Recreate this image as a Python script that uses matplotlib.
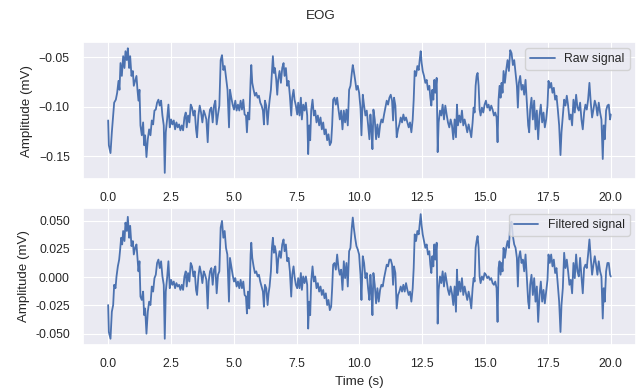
import matplotlib
matplotlib.use("Agg")
import matplotlib.pyplot as plt
import seaborn as sns

# EOG recording: raw channel (mV) sampled along time (s)
raw_t = [0.0, 0.028, 0.094, 0.147, 0.200, 0.240, 0.306, 0.359, 0.412, 0.452, 0.492, 0.545, 0.598, 0.650, 0.690,
         0.743, 0.783, 0.836, 0.876, 0.929, 0.982, 1.021, 1.074, 1.127, 1.167, 1.207, 1.247, 1.286, 1.339, 1.392,
         1.432, 1.472, 1.525, 1.578, 1.631, 1.684, 1.737, 1.790, 1.843, 1.896, 1.948, 2.001, 2.054, 2.107, 2.160,
         2.213, 2.253, 2.293, 2.346, 2.399, 2.452, 2.505, 2.558, 2.611, 2.664, 2.717, 2.770, 2.823, 2.876, 2.929,
         2.982, 3.035, 3.088, 3.127, 3.180, 3.233, 3.286, 3.339, 3.392, 3.445, 3.498, 3.538, 3.591, 3.644, 3.697,
         3.750, 3.803, 3.856, 3.909, 3.962, 4.001, 4.054, 4.107, 4.160, 4.213, 4.266, 4.319, 4.372, 4.425, 4.478,
         4.531, 4.584, 4.637, 4.690, 4.750, 4.810, 4.848, 4.901, 4.954, 5.007, 5.060, 5.113, 5.166, 5.219, 5.272,
         5.325, 5.378, 5.431, 5.484, 5.523, 5.563, 5.616, 5.669, 5.696, 5.735, 5.788, 5.841, 5.894, 5.947, 6.000,
         6.053, 6.106, 6.159, 6.199, 6.239, 6.292, 6.345, 6.384, 6.424, 6.477, 6.517, 6.556, 6.596, 6.636, 6.689,
         6.729, 6.768, 6.821, 6.874, 6.927, 6.980, 7.020, 7.073, 7.126, 7.179, 7.232, 7.285, 7.325, 7.378, 7.417,
         7.470, 7.523, 7.563, 7.616, 7.669, 7.709, 7.762, 7.815, 7.868, 7.921, 7.960, 8.000, 8.040, 8.080, 8.133,
         8.186, 8.239, 8.292, 8.345, 8.398, 8.451, 8.504, 8.557, 8.609, 8.662, 8.715, 8.768, 8.821, 8.874, 8.914,
         8.954, 9.007, 9.060, 9.113, 9.166, 9.219, 9.272, 9.325, 9.378, 9.430, 9.483, 9.536, 9.589, 9.642, 9.696,
         9.735, 9.775, 9.828, 9.881, 9.934, 9.987, 10.040, 10.080, 10.133, 10.185, 10.238, 10.291, 10.344, 10.397,
         10.437, 10.477, 10.517, 10.556, 10.609, 10.662, 10.715, 10.768, 10.821, 10.874, 10.927, 10.980, 11.033,
         11.086, 11.139, 11.192, 11.245, 11.298, 11.338, 11.377, 11.430, 11.483, 11.536, 11.589, 11.642, 11.695,
         11.748, 11.801, 11.854, 11.907, 11.960, 12.013, 12.066, 12.119, 12.159, 12.199, 12.252, 12.305, 12.358,
         12.397, 12.437, 12.477, 12.517, 12.570, 12.623, 12.675, 12.728, 12.781, 12.821, 12.861, 12.901, 12.940,
         12.980, 13.020, 13.073, 13.113, 13.152, 13.205, 13.258, 13.311, 13.364, 13.417, 13.470, 13.523, 13.576,
         13.629, 13.682, 13.735, 13.788, 13.841, 13.881, 13.921, 13.974, 14.026, 14.079, 14.132, 14.185, 14.238,
         14.291, 14.344, 14.397, 14.450, 14.503, 14.543, 14.583, 14.623, 14.662, 14.702, 14.742, 14.781, 14.821,
         14.874, 14.927, 14.980, 15.033, 15.086, 15.139, 15.192, 15.245, 15.298, 15.351, 15.404, 15.457, 15.496,
         15.536, 15.576, 15.616, 15.655, 15.695, 15.735, 15.788, 15.841, 15.894, 15.947, 16.000, 16.053, 16.106,
         16.159, 16.212, 16.265, 16.304, 16.344, 16.397, 16.450, 16.503, 16.556, 16.609, 16.662, 16.715, 16.755,
         16.794, 16.847, 16.900, 16.953, 17.006, 17.059, 17.112, 17.165, 17.218, 17.271, 17.324, 17.377, 17.430,
         17.483, 17.523, 17.576, 17.629, 17.682, 17.735, 17.788, 17.841, 17.894, 17.947, 18.000, 18.040, 18.093,
         18.146, 18.198, 18.251, 18.304, 18.357, 18.410, 18.463, 18.516, 18.569, 18.622, 18.675, 18.728, 18.781,
         18.834, 18.887, 18.940, 18.993, 19.046, 19.099, 19.152, 19.205, 19.258, 19.311, 19.364, 19.417, 19.470,
         19.523, 19.576, 19.629, 19.682, 19.722, 19.762, 19.815, 19.868, 19.921, 19.974, 20.000]
raw_mv = [-0.114, -0.139, -0.147, -0.126, -0.109, -0.096, -0.093, -0.086, -0.074, -0.083, -0.056, -0.069, -0.049,
          -0.061, -0.044, -0.053, -0.041, -0.061, -0.049, -0.069, -0.064, -0.079, -0.074, -0.069, -0.083, -0.094,
          -0.083, -0.119, -0.129, -0.116, -0.139, -0.129, -0.151, -0.133, -0.123, -0.129, -0.114, -0.118, -0.104,
          -0.103, -0.096, -0.093, -0.099, -0.094, -0.109, -0.119, -0.167, -0.126, -0.113, -0.098, -0.121, -0.113,
          -0.118, -0.114, -0.123, -0.116, -0.121, -0.118, -0.124, -0.119, -0.124, -0.111, -0.106, -0.121, -0.109,
          -0.116, -0.098, -0.101, -0.109, -0.104, -0.123, -0.131, -0.109, -0.099, -0.106, -0.116, -0.104, -0.108,
          -0.113, -0.136, -0.113, -0.103, -0.101, -0.116, -0.099, -0.094, -0.118, -0.108, -0.099, -0.053, -0.048,
          -0.063, -0.059, -0.070, -0.083, -0.121, -0.083, -0.091, -0.098, -0.103, -0.094, -0.104, -0.098, -0.104,
          -0.094, -0.103, -0.093, -0.108, -0.109, -0.126, -0.106, -0.113, -0.073, -0.058, -0.076, -0.083, -0.089,
          -0.086, -0.091, -0.089, -0.096, -0.099, -0.104, -0.118, -0.094, -0.099, -0.118, -0.104, -0.094, -0.083,
          -0.066, -0.049, -0.066, -0.061, -0.073, -0.088, -0.073, -0.064, -0.076, -0.061, -0.056, -0.069, -0.061,
          -0.079, -0.074, -0.089, -0.109, -0.091, -0.083, -0.093, -0.099, -0.108, -0.096, -0.109, -0.091, -0.113,
          -0.098, -0.104, -0.096, -0.109, -0.148, -0.119, -0.134, -0.104, -0.093, -0.109, -0.104, -0.116, -0.109,
          -0.119, -0.111, -0.123, -0.116, -0.128, -0.123, -0.134, -0.128, -0.139, -0.136, -0.119, -0.093, -0.091,
          -0.098, -0.091, -0.103, -0.113, -0.104, -0.123, -0.104, -0.116, -0.103, -0.119, -0.083, -0.079, -0.066,
          -0.058, -0.064, -0.073, -0.083, -0.079, -0.086, -0.101, -0.129, -0.088, -0.099, -0.109, -0.104, -0.118,
          -0.133, -0.108, -0.123, -0.143, -0.103, -0.113, -0.133, -0.118, -0.131, -0.119, -0.113, -0.116, -0.108,
          -0.101, -0.094, -0.098, -0.091, -0.088, -0.094, -0.114, -0.091, -0.099, -0.131, -0.123, -0.118, -0.111,
          -0.116, -0.108, -0.114, -0.111, -0.116, -0.121, -0.116, -0.126, -0.113, -0.093, -0.064, -0.069, -0.059,
          -0.063, -0.053, -0.044, -0.056, -0.064, -0.069, -0.076, -0.073, -0.083, -0.079, -0.091, -0.099, -0.083,
          -0.093, -0.073, -0.086, -0.071, -0.146, -0.116, -0.104, -0.109, -0.098, -0.113, -0.099, -0.108, -0.116,
          -0.121, -0.113, -0.119, -0.133, -0.113, -0.131, -0.098, -0.119, -0.109, -0.116, -0.104, -0.119, -0.113,
          -0.119, -0.126, -0.118, -0.124, -0.131, -0.116, -0.101, -0.106, -0.079, -0.069, -0.066, -0.079, -0.103,
          -0.109, -0.101, -0.106, -0.098, -0.094, -0.101, -0.098, -0.104, -0.099, -0.103, -0.109, -0.106, -0.111,
          -0.136, -0.093, -0.079, -0.091, -0.076, -0.086, -0.064, -0.076, -0.063, -0.053, -0.064, -0.043, -0.046,
          -0.058, -0.053, -0.066, -0.079, -0.101, -0.076, -0.069, -0.083, -0.078, -0.088, -0.073, -0.096, -0.119,
          -0.126, -0.103, -0.091, -0.113, -0.094, -0.123, -0.104, -0.133, -0.109, -0.098, -0.116, -0.106, -0.121,
          -0.113, -0.099, -0.074, -0.081, -0.076, -0.086, -0.081, -0.093, -0.089, -0.103, -0.119, -0.149, -0.126,
          -0.109, -0.093, -0.099, -0.089, -0.099, -0.113, -0.108, -0.119, -0.093, -0.106, -0.088, -0.101, -0.104,
          -0.096, -0.113, -0.123, -0.106, -0.098, -0.103, -0.093, -0.076, -0.096, -0.111, -0.103, -0.094, -0.099,
          -0.109, -0.096, -0.106, -0.113, -0.153, -0.119, -0.133, -0.104, -0.099, -0.098, -0.113, -0.108]

# Same channel after baseline removal
filt_t = [0.0, 0.028, 0.094, 0.147, 0.200, 0.240, 0.293, 0.333, 0.386, 0.439, 0.478, 0.518, 0.558, 0.598, 0.650,
          0.690, 0.743, 0.783, 0.836, 0.876, 0.929, 0.982, 1.021, 1.074, 1.127, 1.167, 1.207, 1.247, 1.286, 1.339,
          1.392, 1.432, 1.472, 1.525, 1.578, 1.631, 1.684, 1.737, 1.790, 1.843, 1.896, 1.948, 2.001, 2.054, 2.107,
          2.160, 2.213, 2.253, 2.293, 2.346, 2.399, 2.452, 2.505, 2.558, 2.611, 2.664, 2.717, 2.770, 2.823, 2.876,
          2.929, 2.982, 3.035, 3.088, 3.127, 3.180, 3.233, 3.286, 3.339, 3.392, 3.445, 3.498, 3.538, 3.591, 3.644,
          3.697, 3.750, 3.803, 3.856, 3.909, 3.962, 4.001, 4.054, 4.107, 4.160, 4.213, 4.266, 4.319, 4.372, 4.425,
          4.478, 4.531, 4.584, 4.637, 4.690, 4.743, 4.808, 4.848, 4.901, 4.954, 5.007, 5.060, 5.113, 5.166, 5.219,
          5.272, 5.325, 5.378, 5.431, 5.484, 5.523, 5.563, 5.616, 5.669, 5.696, 5.735, 5.788, 5.841, 5.894, 5.947,
          6.000, 6.053, 6.106, 6.159, 6.199, 6.239, 6.292, 6.345, 6.384, 6.424, 6.477, 6.517, 6.556, 6.596, 6.636,
          6.689, 6.729, 6.768, 6.821, 6.874, 6.927, 6.980, 7.020, 7.073, 7.126, 7.179, 7.232, 7.285, 7.325, 7.378,
          7.417, 7.470, 7.523, 7.563, 7.616, 7.669, 7.709, 7.762, 7.815, 7.868, 7.921, 7.960, 8.000, 8.040, 8.080,
          8.133, 8.186, 8.239, 8.292, 8.345, 8.398, 8.451, 8.504, 8.557, 8.609, 8.662, 8.715, 8.768, 8.821, 8.874,
          8.914, 8.954, 9.007, 9.060, 9.113, 9.166, 9.219, 9.272, 9.325, 9.378, 9.430, 9.483, 9.536, 9.589, 9.642,
          9.696, 9.735, 9.775, 9.828, 9.881, 9.934, 9.987, 10.040, 10.080, 10.133, 10.185, 10.238, 10.291, 10.344,
          10.397, 10.437, 10.477, 10.517, 10.556, 10.609, 10.662, 10.715, 10.768, 10.821, 10.874, 10.927, 10.980,
          11.033, 11.086, 11.139, 11.192, 11.245, 11.298, 11.338, 11.377, 11.430, 11.483, 11.536, 11.589, 11.642,
          11.695, 11.748, 11.801, 11.854, 11.907, 11.960, 12.013, 12.066, 12.119, 12.159, 12.199, 12.252, 12.305,
          12.358, 12.397, 12.437, 12.477, 12.517, 12.570, 12.623, 12.675, 12.728, 12.781, 12.821, 12.861, 12.901,
          12.940, 12.980, 13.020, 13.073, 13.113, 13.152, 13.205, 13.258, 13.311, 13.364, 13.417, 13.470, 13.523,
          13.576, 13.629, 13.682, 13.735, 13.788, 13.841, 13.881, 13.921, 13.974, 14.026, 14.079, 14.132, 14.185,
          14.238, 14.291, 14.344, 14.397, 14.450, 14.503, 14.543, 14.583, 14.623, 14.662, 14.702, 14.742, 14.781,
          14.821, 14.874, 14.927, 14.980, 15.033, 15.086, 15.139, 15.192, 15.245, 15.298, 15.351, 15.404, 15.457,
          15.496, 15.536, 15.576, 15.616, 15.655, 15.695, 15.735, 15.788, 15.841, 15.894, 15.947, 16.000, 16.053,
          16.106, 16.159, 16.212, 16.265, 16.304, 16.344, 16.397, 16.450, 16.503, 16.556, 16.609, 16.662, 16.715,
          16.755, 16.794, 16.847, 16.900, 16.953, 17.006, 17.059, 17.112, 17.165, 17.218, 17.271, 17.324, 17.377,
          17.430, 17.483, 17.523, 17.576, 17.629, 17.682, 17.735, 17.788, 17.841, 17.894, 17.947, 18.000, 18.040,
          18.093, 18.146, 18.198, 18.251, 18.304, 18.357, 18.410, 18.463, 18.516, 18.569, 18.622, 18.675, 18.728,
          18.781, 18.834, 18.887, 18.940, 18.993, 19.046, 19.099, 19.152, 19.205, 19.258, 19.311, 19.364, 19.417,
          19.470, 19.523, 19.576, 19.629, 19.682, 19.722, 19.762, 19.815, 19.868, 19.921, 19.974, 20.000]
filt_mv = [-0.0247, -0.0485, -0.0545, -0.0306, -0.0247, -0.0068, -0.0098, 0.0006, 0.0095, 0.0155, 0.0244, 0.0348,
           0.0289, 0.0408, 0.0319, 0.0482, 0.0408, 0.0533, 0.0348, 0.0453, 0.0274, 0.0319, 0.0200, 0.0259, 0.0289,
           0.0170, 0.0051, 0.0140, -0.0172, -0.0202, -0.0128, -0.0336, -0.0277, -0.0500, -0.0306, -0.0217, -0.0247,
           -0.0083, -0.0128, -0.0009, 0.0021, 0.0125, 0.0155, 0.0080, 0.0140, 0.0006, -0.0068, -0.0545, -0.0128,
           -0.0009, 0.0140, -0.0098, -0.0024, -0.0068, -0.0039, -0.0098, -0.0053, -0.0083, -0.0068, -0.0113, -0.0068,
           -0.0113, 0.0006, 0.0051, -0.0083, 0.0036, -0.0039, 0.0125, 0.0095, 0.0006, 0.0051, -0.0113, -0.0158,
           0.0006, 0.0095, 0.0036, -0.0053, 0.0051, 0.0021, -0.0024, -0.0277, -0.0039, 0.0051, 0.0080, -0.0068,
           0.0066, 0.0095, -0.0143, 0.0021, 0.0051, 0.0438, 0.0497, 0.0348, 0.0408, 0.0259, 0.0200, -0.0217, 0.0170,
           0.0095, 0.0021, -0.0039, -0.0009, -0.0083, -0.0039, -0.0098, -0.0024, -0.0098, -0.0039, -0.0158, -0.0172,
           -0.0321, -0.0128, -0.0277, 0.0200, 0.0304, 0.0170, 0.0095, 0.0036, 0.0051, 0.0006, 0.0021, -0.0039,
           -0.0083, -0.0128, -0.0262, -0.0068, -0.0098, -0.0247, -0.0143, -0.0083, 0.0051, 0.0259, 0.0348, 0.0215,
           0.0274, 0.0200, 0.0036, 0.0155, 0.0229, 0.0170, 0.0289, 0.0333, 0.0229, 0.0289, 0.0140, 0.0170, 0.0051,
           -0.0172, 0.0021, 0.0095, 0.0006, -0.0068, -0.0098, -0.0009, -0.0098, 0.0036, -0.0113, 0.0006, -0.0053,
           0.0006, -0.0068, -0.0455, -0.0217, -0.0336, -0.0039, 0.0095, -0.0039, 0.0006, -0.0098, -0.0053, -0.0128,
           -0.0083, -0.0158, -0.0113, -0.0187, -0.0143, -0.0247, -0.0202, -0.0292, -0.0262, -0.0098, 0.0110, 0.0125,
           0.0066, 0.0200, 0.0080, 0.0021, 0.0066, -0.0113, 0.0140, -0.0009, 0.0125, -0.0083, 0.0229, 0.0259, 0.0438,
           0.0527, 0.0438, 0.0348, 0.0274, 0.0244, 0.0200, 0.0021, -0.0202, 0.0185, 0.0125, -0.0009, 0.0036, -0.0098,
           -0.0202, 0.0021, -0.0128, -0.0336, 0.0036, -0.0068, -0.0232, -0.0098, -0.0217, -0.0113, -0.0068, -0.0083,
           -0.0009, 0.0051, 0.0110, 0.0095, 0.0155, 0.0155, 0.0110, -0.0068, 0.0095, 0.0036, -0.0277, -0.0158,
           -0.0128, -0.0083, -0.0128, -0.0068, -0.0128, -0.0053, -0.0113, -0.0158, -0.0128, -0.0217, -0.0098, 0.0080,
           0.0378, 0.0319, 0.0408, 0.0378, 0.0467, 0.0557, 0.0453, 0.0378, 0.0319, 0.0259, 0.0289, 0.0200, 0.0229,
           0.0110, 0.0036, 0.0185, 0.0095, 0.0289, 0.0155, 0.0304, -0.0411, -0.0113, 0.0006, -0.0053, 0.0051,
           -0.0083, 0.0036, -0.0039, -0.0113, -0.0158, -0.0083, -0.0143, -0.0247, -0.0083, -0.0306, 0.0066, -0.0158,
           -0.0039, -0.0128, -0.0009, -0.0158, -0.0083, -0.0143, -0.0202, -0.0128, -0.0187, -0.0277, -0.0098,
           -0.0009, -0.0039, 0.0259, 0.0319, 0.0363, 0.0259, 0.0006, -0.0053, 0.0006, -0.0024, 0.0036, 0.0021,
           -0.0009, 0.0006, -0.0024, -0.0009, -0.0053, -0.0068, -0.0039, -0.0098, -0.0396, 0.0080, 0.0140, 0.0021,
           0.0125, 0.0051, 0.0259, 0.0170, 0.0259, 0.0319, 0.0259, 0.0460, 0.0490, 0.0363, 0.0289, 0.0259, 0.0170,
           -0.0083, 0.0170, 0.0229, 0.0125, 0.0155, 0.0051, 0.0200, -0.0009, -0.0217, -0.0277, -0.0068, 0.0021,
           -0.0158, -0.0009, -0.0217, -0.0083, -0.0396, -0.0158, -0.0039, -0.0217, -0.0113, -0.0232, -0.0128,
           -0.0024, 0.0200, 0.0125, 0.0200, 0.0095, 0.0155, 0.0036, 0.0080, -0.0068, -0.0217, -0.0485, -0.0247,
           -0.0098, 0.0215, 0.0080, 0.0155, 0.0051, -0.0068, -0.0024, -0.0143, 0.0125, -0.0009, 0.0200, 0.0051,
           0.0006, 0.0170, 0.0006, -0.0143, 0.0080, 0.0110, 0.0080, 0.0200, 0.0333, 0.0170, 0.0021, 0.0110, 0.0185,
           0.0110, 0.0021, 0.0140, 0.0051, 0.0006, -0.0366, -0.0098, -0.0217, 0.0051, 0.0125, 0.0125, 0.0021, 0.0006]

time_ticks = [0.0, 2.5, 5.0, 7.5, 10.0, 12.5, 15.0, 17.5, 20.0]
raw_ticks = [-0.15, -0.10, -0.05]
filt_ticks = [-0.050, -0.025, 0.000, 0.025, 0.050]

sns.set_theme(style="darkgrid")
plt.rcParams.update({
    "font.family": ["Liberation Sans", "DejaVu Sans"],
    "xtick.labelsize": 8.8,
    "ytick.labelsize": 8.8,
    "axes.labelsize": 9.6,
    "legend.fontsize": 8.8,
    "grid.linewidth": 0.8,
})

fig, (ax1, ax2) = plt.subplots(2, 1, figsize=(6.41, 3.90), dpi=100)
fig.subplots_adjust(left=0.1295, right=0.992, top=0.8923, bottom=0.1154, hspace=0.21)

line_color = "#4C72B0"
ax1.plot(raw_t, raw_mv, color=line_color, lw=1.3, label="Raw signal")
ax1.set_ylabel("Amplitude (mV)")
ax1.set_xticks(time_ticks)
ax1.set_yticks(raw_ticks)
ax1.legend(loc="upper right")

ax2.plot(filt_t, filt_mv, color=line_color, lw=1.3, label="Filtered signal")
ax2.set_ylabel("Amplitude (mV)")
ax2.set_xlabel("Time (s)")
ax2.set_xticks(time_ticks)
ax2.set_yticks(filt_ticks)
ax2.yaxis.set_major_formatter(matplotlib.ticker.FormatStrFormatter("%.3f"))
ax2.legend(loc="upper right")

fig.suptitle("EOG", fontsize=9.6, y=0.975)
fig.savefig("out.png", dpi=100)
